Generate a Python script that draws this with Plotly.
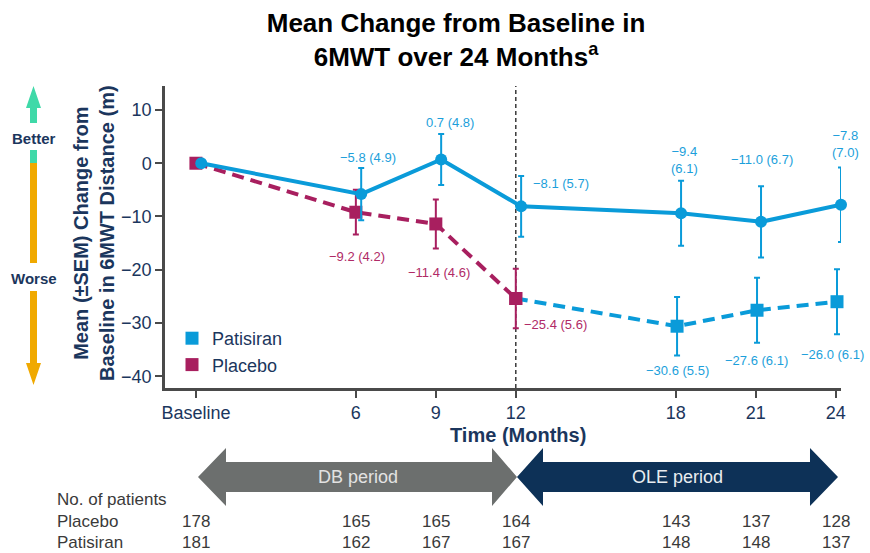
import plotly.graph_objects as go

# ---------------- data ----------------
months = [0, 6, 9, 12, 18, 21, 24]
tick_labels = ["Baseline", "6", "9", "12", "18", "21", "24"]
y_ticks = [10, 0, -10, -20, -30, -40]

patisiran_x = [0, 6, 9, 12, 18, 21, 24]
patisiran_mean = [0.0, -5.8, 0.7, -8.1, -9.4, -11.0, -7.8]
patisiran_sem = [None, 4.9, 4.8, 5.7, 6.1, 6.7, 7.0]

placebo_x = [0, 6, 9, 12]
placebo_mean = [0.0, -9.2, -11.4, -25.4]
placebo_sem = [None, 4.2, 4.6, 5.6]

ole_x = [12, 18, 21, 24]
ole_mean = [-25.4, -30.6, -27.6, -26.0]
ole_sem = [None, 5.5, 6.1, 6.1]

n_placebo = [178, 165, 165, 164, 143, 137, 128]
n_patisiran = [181, 162, 167, 167, 148, 148, 137]

# ---------------- styles ----------------
FONT = "Liberation Sans, Arial, Helvetica, sans-serif"
BLUE = "#0A9BD9"
BLUE_TXT = "#1C9FDB"
MAG = "#A81F5F"
MAG_TXT = "#B02A66"
NAVY = "#1B365D"
AXIS = "#4A4A4A"
TABLE = "#3A3A3A"
GREEN = "#3FD9A8"
ORANGE = "#F0A900"
GREY_ARROW = "#6C6F6E"
NAVY_ARROW = "#0D3157"

W, H = 870, 553
L, T, B_PX = 165, 86, 388
PW = 676
PH = B_PX - T
R = W - L - PW
BM = H - B_PX

PAT_DX = 0.2    # small horizontal dodge for patisiran points
OLE_DX = 0.05


def P(px, py):
    """pixel -> paper coordinates"""
    return (px - L) / PW, (B_PX - py) / PH


def path(points):
    pts = [P(x, y) for x, y in points]
    return "M " + " L ".join(f"{x:.5f},{y:.5f}" for x, y in pts) + " Z"


def fmt(v):
    return f"{v:.1f}".replace("-", "\u2212")


fig = go.Figure()

# placebo (dashed, squares)
fig.add_trace(go.Scatter(
    x=placebo_x, y=placebo_mean, mode="lines+markers",
    line=dict(color=MAG, width=4, dash="12px,7px"),
    marker=dict(symbol="square", size=13, color=MAG),
    error_y=dict(type="data", array=placebo_sem, color=MAG, thickness=2, width=3),
    showlegend=False, cliponaxis=False))

# placebo -> patisiran (OLE, dashed, squares)
fig.add_trace(go.Scatter(
    x=[m + (OLE_DX if i > 0 else 0) for i, m in enumerate(ole_x)], y=ole_mean, mode="lines+markers",
    line=dict(color=BLUE, width=4, dash="12px,7px"),
    marker=dict(symbol="square", size=13, color=[MAG, BLUE, BLUE, BLUE]),
    error_y=dict(type="data", array=ole_sem, color=BLUE, thickness=2, width=3),
    showlegend=False, cliponaxis=False))

# patisiran (solid, circles)
fig.add_trace(go.Scatter(
    x=[m + PAT_DX for m in patisiran_x], y=patisiran_mean, mode="lines+markers",
    line=dict(color=BLUE, width=4), marker=dict(symbol="circle", size=12, color=BLUE),
    error_y=dict(type="data", array=patisiran_sem, color=BLUE, thickness=2, width=3),
    showlegend=False, cliponaxis=False))

# legend entries
fig.add_trace(go.Scatter(x=[None], y=[None], mode="markers", name="Patisiran",
                         marker=dict(symbol="square", size=13, color=BLUE), legendgroup="a"))
fig.add_trace(go.Scatter(x=[None], y=[None], mode="markers", name="Placebo",
                         marker=dict(symbol="square", size=13, color=MAG), legendgroup="b"))

annotations = []

# ---- data labels ----
# (index, xanchor, yanchor, xshift, yshift, two_lines)
pat_label_pos = [(1, "center", "bottom", 7, 1, False),
                 (2, "center", "bottom", 9, 2, False),
                 (3, "left", "middle", 10, -7, False),
                 (4, "center", "bottom", 3, 3, True),
                 (5, "center", "bottom", 1, 17, False),
                 (6, "center", "bottom", 4, 5, True)]
for i, xa, ya, xs, ys, two in pat_label_pos:
    txt = fmt(patisiran_mean[i]) + ("<br>" if two else " ") + f"({patisiran_sem[i]:.1f})"
    annotations.append(dict(x=patisiran_x[i] + PAT_DX, y=patisiran_mean[i] + patisiran_sem[i],
                            xref="x", yref="y", text=txt, showarrow=False, xanchor=xa, yanchor=ya,
                            xshift=xs, yshift=ys, font=dict(size=13, color=BLUE_TXT, family=FONT)))

plc_label_pos = [(1, "center", "top", 1, -12),
                 (2, "center", "top", 3, -15),
                 (3, "left", "middle", 6, 4)]
for i, xa, ya, xs, ys in plc_label_pos:
    txt = fmt(placebo_mean[i]) + f" ({placebo_sem[i]:.1f})"
    annotations.append(dict(x=placebo_x[i], y=placebo_mean[i] - placebo_sem[i],
                            xref="x", yref="y", text=txt, showarrow=False, xanchor=xa, yanchor=ya,
                            xshift=xs, yshift=ys, font=dict(size=13, color=MAG_TXT, family=FONT)))

ole_label_pos = [(1, "center", "top", 0, -5),
                 (2, "center", "top", -1, -8),
                 (3, "center", "top", -5, -11)]
for i, xa, ya, xs, ys in ole_label_pos:
    txt = fmt(ole_mean[i]) + f" ({ole_sem[i]:.1f})"
    annotations.append(dict(x=ole_x[i] + OLE_DX, y=ole_mean[i] - ole_sem[i],
                            xref="x", yref="y", text=txt, showarrow=False, xanchor=xa, yanchor=ya,
                            xshift=xs, yshift=ys, font=dict(size=13, color=BLUE_TXT, family=FONT)))

# ---- y-axis title (two lines) ----
yt_x, yt_y = P(94, 233)
annotations.append(dict(x=yt_x, y=yt_y, xref="paper", yref="paper", textangle=-90,
                        text="Mean (\u00b1SEM) Change from<br>Baseline in 6MWT Distance (m)",
                        showarrow=False, xanchor="center", yanchor="middle",
                        font=dict(size=20, color=NAVY, family=FONT, weight="bold")))

# ---- x-axis title ----
xt_x, xt_y = P(518, 435)
annotations.append(dict(x=xt_x, y=xt_y, xref="paper", yref="paper", text="Time (Months)",
                        showarrow=False, xanchor="center", yanchor="middle",
                        font=dict(size=20, color=NAVY, family=FONT, weight="bold")))

# ---- Better / Worse ----
for lbl, py in [("Better", 138), ("Worse", 278)]:
    ax_, ay_ = P(34, py)
    annotations.append(dict(x=ax_, y=ay_, xref="paper", yref="paper", text=lbl, showarrow=False,
                            xanchor="center", yanchor="middle",
                            font=dict(size=15, color=NAVY, family=FONT, weight="bold")))

# ---- period labels ----
for lbl, px, col in [("DB period", 358, "#E2E2E2"), ("OLE period", 677, "#E8ECF0")]:
    ax_, ay_ = P(px, 477)
    annotations.append(dict(x=ax_, y=ay_, xref="paper", yref="paper", text=lbl, showarrow=False,
                            xanchor="center", yanchor="middle",
                            font=dict(size=18, color=col, family=FONT)))

# ---- patients table ----
for lbl, py in [("No. of patients", 499), ("Placebo", 521), ("Patisiran", 542)]:
    ax_, ay_ = P(56, py)
    annotations.append(dict(x=ax_, y=ay_, xref="paper", yref="paper", text=lbl, showarrow=False,
                            xanchor="left", yanchor="middle", borderpad=0,
                            font=dict(size=17, color=TABLE, family=FONT)))
for row, py in [(n_placebo, 521), (n_patisiran, 542)]:
    _, ay_ = P(0, py)
    for m, n in zip(months, row):
        annotations.append(dict(x=m, y=ay_, xref="x", yref="paper", text=str(n), showarrow=False,
                                xanchor="center", yanchor="middle", borderpad=0,
                                font=dict(size=17, color=TABLE, family=FONT)))

shapes = []
# vertical dashed separator at month 12
shapes.append(dict(type="line", xref="x", yref="paper", x0=12, x1=12, y0=0, y1=1,
                   line=dict(color="#3A3A3A", width=1.5, dash="4px,3px"), layer="below"))

# Better / Worse arrow
shapes.append(dict(type="path", xref="paper", yref="paper",
                   path=path([(33.5, 86), (41, 108), (37, 108), (37, 123), (30, 123), (30, 108), (26, 108)]),
                   fillcolor=GREEN, line=dict(width=0)))
shapes.append(dict(type="path", xref="paper", yref="paper",
                   path=path([(30, 150), (37, 150), (37, 163), (30, 163)]),
                   fillcolor=GREEN, line=dict(width=0)))
shapes.append(dict(type="path", xref="paper", yref="paper",
                   path=path([(30, 163), (37, 163), (37, 263), (30, 263)]),
                   fillcolor=ORANGE, line=dict(width=0)))
shapes.append(dict(type="path", xref="paper", yref="paper",
                   path=path([(30, 291), (37, 291), (37, 363), (41, 363), (33.5, 385), (26, 363), (30, 363)]),
                   fillcolor=ORANGE, line=dict(width=0)))

# period arrows
shapes.append(dict(type="path", xref="paper", yref="paper",
                   path=path([(198, 477), (226, 448), (226, 462), (492, 462), (492, 448), (517, 477),
                              (492, 506), (492, 492), (226, 492), (226, 506)]),
                   fillcolor=GREY_ARROW, line=dict(width=0)))
shapes.append(dict(type="path", xref="paper", yref="paper",
                   path=path([(517, 477), (543, 448), (543, 462), (810, 462), (810, 448), (838, 477),
                              (810, 506), (810, 492), (543, 492), (543, 506)]),
                   fillcolor=NAVY_ARROW, line=dict(width=0)))

lg_x, lg_y = P(172, 320)

fig.update_layout(
    width=W, height=H,
    margin=dict(l=L, r=R, t=T, b=BM, pad=0),
    paper_bgcolor="white", plot_bgcolor="white",
    font=dict(family=FONT, color=NAVY),
    title=dict(text="Mean Change from Baseline in<br>6MWT over 24 Months<sup>a</sup>",
               x=456 / W, xref="container", xanchor="center",
               y=1 - 32 / H, yref="container", yanchor="middle",
               font=dict(size=26, color="black", family=FONT, weight="bold")),
    xaxis=dict(range=[-1.16, 24.2], tickvals=months, ticktext=tick_labels,
               showgrid=False, zeroline=False, showline=True, linecolor=AXIS, linewidth=2.5,
               ticks="outside", ticklen=7, tickwidth=2, tickcolor=AXIS,
               tickfont=dict(size=18, color=NAVY, family=FONT)),
    yaxis=dict(range=[-42.2, 14.5], tickvals=y_ticks,
               showgrid=False, zeroline=False, showline=True, linecolor=AXIS, linewidth=2.5,
               ticks="outside", ticklen=7, tickwidth=2, tickcolor=AXIS,
               tickfont=dict(size=18, color=NAVY, family=FONT)),
    legend=dict(x=lg_x, y=lg_y, xanchor="left", yanchor="top", bgcolor="rgba(0,0,0,0)",
                font=dict(size=18, color=NAVY, family=FONT), tracegroupgap=0,
                itemclick=False, itemdoubleclick=False),
    annotations=annotations,
    shapes=shapes,
)

fig.write_html("out.html", config={"displayModeBar": False},
               post_script="document.body.style.margin='0';document.body.style.padding='0';")
